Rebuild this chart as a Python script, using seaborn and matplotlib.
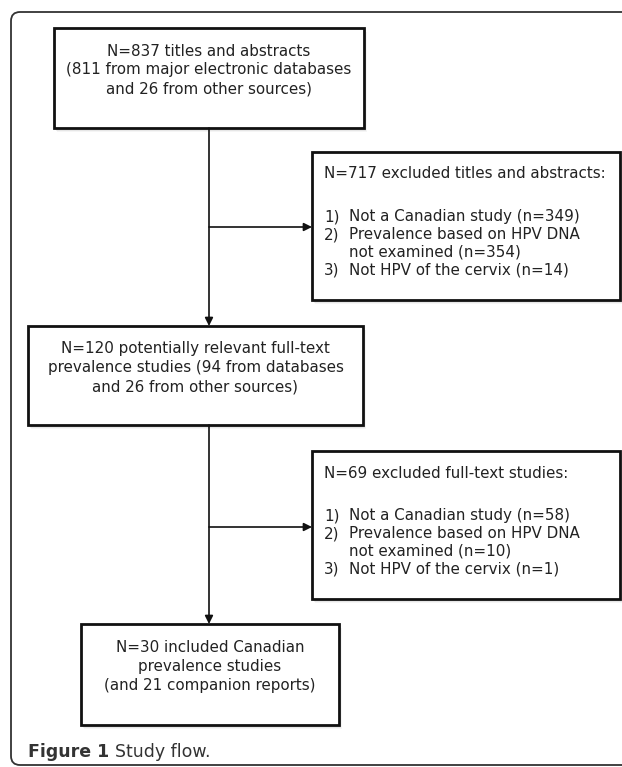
import matplotlib.pyplot as plt
import seaborn as sns
from matplotlib.patches import Rectangle, PathPatch
from matplotlib.path import Path

# numbers
n_screened = 837
screened_from = [811, 26]
n_excluded_abstract = 717
n_fulltext = 120
fulltext_from = [94, 26]
n_excluded_fulltext = 69
n_included = 30
n_companion = 21

exclusion_reasons = ["Not a Canadian study",
                     "Prevalence based on HPV DNA\nnot examined",
                     "Not HPV of the cervix"]
excluded_abstract_counts = [349, 354, 14]
excluded_fulltext_counts = [58, 10, 1]

caption_bold = "Figure 1"
caption_rest = "Study flow."

# layout in pixels (x0, y0, x1, y1), y grows downwards
trunk_x = 209
boxes = {
    "screened": (54, 28, 364, 128),
    "excl_abs": (312, 152, 620, 300),
    "fulltext": (28, 326, 363, 425),
    "excl_ft": (312, 451, 620, 599),
    "included": (81, 624, 339, 725),
}
branch_y = {"excl_abs": 227, "excl_ft": 527}
center_step = 18.8
list_step = 17.8
fs = 10.9

sns.set_theme(style="white")
plt.rcParams["font.family"] = ["DejaVu Sans"]

fig = plt.figure(figsize=(6.22, 7.67), dpi=100)
ax = fig.add_axes([0, 0, 1, 1])
ax.set_xlim(0, 622)
ax.set_ylim(767, 0)
ax.axis("off")

# outer panel frame, rounded on the left and open past the right edge
r = 9
fx0, fy0, fy1 = 11, 12, 765
verts = [(700, fy0), (fx0 + r, fy0), (fx0, fy0), (fx0, fy0 + r),
         (fx0, fy1 - r), (fx0, fy1), (fx0 + r, fy1), (700, fy1)]
codes = [Path.MOVETO, Path.LINETO, Path.CURVE3, Path.CURVE3,
         Path.LINETO, Path.CURVE3, Path.CURVE3, Path.LINETO]
ax.add_patch(PathPatch(Path(verts, codes), fill=False, ec="#333333", lw=1.3,
                       zorder=1))


def draw_box(key):
    x0, y0, x1, y1 = boxes[key]
    # soft shadow under the box
    for k, a in enumerate([0.08, 0.12, 0.16]):
        off = 4 - k
        ax.add_patch(Rectangle((x0 + off - 1, y0 + off), x1 - x0, y1 - y0,
                               fc="#808080", ec="none", alpha=a, zorder=2))
    ax.add_patch(Rectangle((x0, y0), x1 - x0, y1 - y0, fc="white",
                           ec="#111111", lw=2.0, zorder=3))


def centered_lines(key, lines, first_y):
    x0, y0, x1, y1 = boxes[key]
    for i, s in enumerate(lines):
        ax.text((x0 + x1) / 2, first_y + i * center_step + 1, s, ha="center",
                va="center", fontsize=fs, color="#222222", zorder=4)


def exclusion_lines(key, heading, counts, first_y):
    x0, y0, x1, y1 = boxes[key]
    ax.text(x0 + 12, first_y, heading, ha="left", va="center", fontsize=fs,
            color="#222222", zorder=4)
    y = first_y + 2.4 * list_step
    for i, (reason, c) in enumerate(zip(exclusion_reasons, counts)):
        parts = (reason + " (n=%d)" % c).split("\n")
        ax.text(x0 + 12, y, "%d)" % (i + 1), ha="left", va="center",
                fontsize=fs, color="#222222", zorder=4)
        for p in parts:
            ax.text(x0 + 37, y, p, ha="left", va="center", fontsize=fs,
                    color="#222222", zorder=4)
            y += list_step


for key in boxes:
    draw_box(key)

centered_lines("screened", ["N=%d titles and abstracts" % n_screened,
                            "(%d from major electronic databases" % screened_from[0],
                            "and %d from other sources)" % screened_from[1]], 50)
centered_lines("fulltext", ["N=%d potentially relevant full-text" % n_fulltext,
                            "prevalence studies (%d from databases" % fulltext_from[0],
                            "and %d from other sources)" % fulltext_from[1]], 348)
centered_lines("included", ["N=%d included Canadian" % n_included,
                            "prevalence studies",
                            "(and %d companion reports)" % n_companion], 647)
exclusion_lines("excl_abs", "N=%d excluded titles and abstracts:" % n_excluded_abstract,
                excluded_abstract_counts, 174)
exclusion_lines("excl_ft", "N=%d excluded full-text studies:" % n_excluded_fulltext,
                excluded_fulltext_counts, 473)

# connectors
arrow = dict(arrowstyle="-|>", color="#111111", lw=1.2, mutation_scale=12,
             shrinkA=0, shrinkB=0)
ax.annotate("", xy=(trunk_x, boxes["fulltext"][1]), xytext=(trunk_x, boxes["screened"][3]),
            arrowprops=arrow, zorder=5)
ax.annotate("", xy=(trunk_x, boxes["included"][1]), xytext=(trunk_x, boxes["fulltext"][3]),
            arrowprops=arrow, zorder=5)
for key, y in branch_y.items():
    ax.annotate("", xy=(boxes[key][0], y), xytext=(trunk_x, y),
                arrowprops=arrow, zorder=5)

# caption: bold label followed by regular text
t1 = ax.text(28, 752, caption_bold + " ", ha="left", va="center", fontsize=12.5,
             fontweight="bold", color="#333333")
fig.canvas.draw()
bb = t1.get_window_extent().transformed(ax.transData.inverted())
ax.text(bb.x1, 752, caption_rest, ha="left", va="center", fontsize=12.5,
        color="#333333")

fig.savefig("out.png", dpi=100, facecolor="white")
